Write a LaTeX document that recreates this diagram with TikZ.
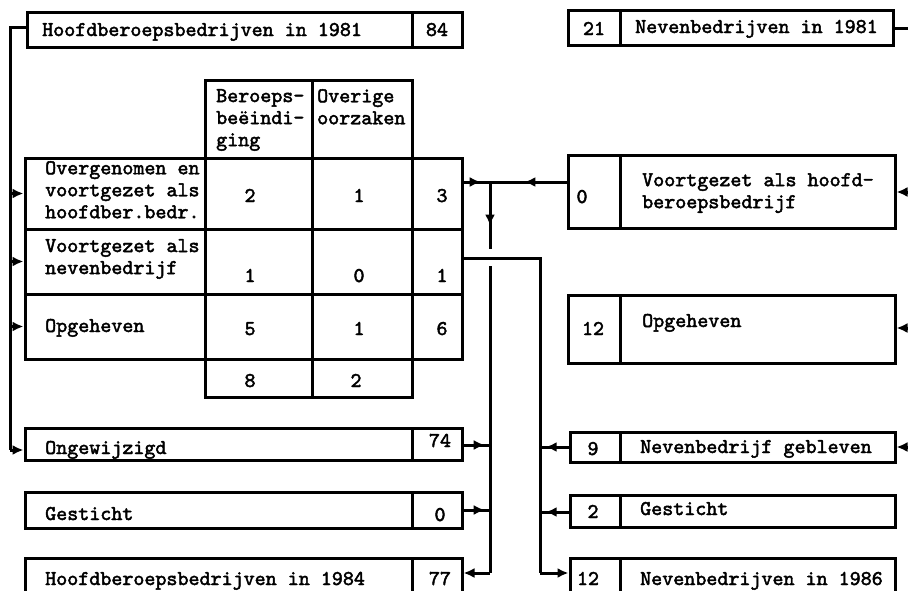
\documentclass[tikz,border=0pt]{standalone}
\usepackage{fontspec}
\newfontfamily\twfont{lmmono10-regular.otf}[FakeBold=2.2]
\usetikzlibrary{fit,arrows.meta,decorations.markings}
\begin{document}
\begin{tikzpicture}[x=1pt,y=-1pt,
  cell/.style={draw, line width=3pt, inner sep=0pt},
  txt/.style={font=\twfont\fontsize{21}{22}\selectfont, inner sep=0pt, align=left},
  lbl/.style={txt, anchor=base west},
  num/.style={txt, anchor=base},
  wire/.style={line width=3pt},
  tip/.style={-{Latex[length=11pt,width=10pt]}},
  midtip/.style={postaction={decorate}, decoration={markings,
      mark=at position #1 with {\arrow{Latex[length=11pt,width=10pt]}}}}
]
\clip (0,0) rectangle (908,590);
\fill[white] (0,0) rectangle (908,590);

% ---------------- boxes, left column
\node[cell, fit={(27,12) (412,47)}] (h81l) {};
\node[cell, fit={(412,12) (462,47)}] (h81n) {};
\node[cell, fit={(205,80) (312,158)}] (hd1) {};
\node[cell, fit={(312,80) (412,158)}] (hd2) {};
\node[cell, fit={(25,158) (205,229)}] (r1l) {};
\node[cell, fit={(205,158) (312,229)}] (r1a) {};
\node[cell, fit={(312,158) (412,229)}] (r1b) {};
\node[cell, fit={(412,158) (462,229)}] (r1c) {};
\node[cell, fit={(25,229) (205,294)}] (r2l) {};
\node[cell, fit={(205,229) (312,294)}] (r2a) {};
\node[cell, fit={(312,229) (412,294)}] (r2b) {};
\node[cell, fit={(412,229) (462,294)}] (r2c) {};
\node[cell, fit={(25,294) (205,359)}] (r3l) {};
\node[cell, fit={(205,294) (312,359)}] (r3a) {};
\node[cell, fit={(312,294) (412,359)}] (r3b) {};
\node[cell, fit={(412,294) (462,359)}] (r3c) {};
\node[cell, fit={(205,359) (312,397)}] (t1) {};
\node[cell, fit={(312,359) (412,397)}] (t2) {};
\node[cell, fit={(25,428) (412,460)}] (ongl) {};
\node[cell, fit={(412,428) (462,460)}] (ongn) {};
\node[cell, fit={(25,492) (412,528)}] (gesl) {};
\node[cell, fit={(412,492) (462,528)}] (gesn) {};
\node[cell, fit={(25,558) (412,610)}] (h84l) {};
\node[cell, fit={(412,558) (462,610)}] (h84n) {};

% ---------------- boxes, right column
\node[cell, fit={(568,10) (620,45)}] (n81n) {};
\node[cell, fit={(620,10) (893,45)}] (n81l) {};
\node[cell, fit={(568,155) (620,228)}] (vhbn) {};
\node[cell, fit={(620,155) (895,228)}] (vhbl) {};
\node[cell, fit={(568,295) (620,363)}] (opgn) {};
\node[cell, fit={(620,295) (895,363)}] (opgl) {};
\node[cell, fit={(570,432) (620,462)}] (ngbn) {};
\node[cell, fit={(620,432) (895,462)}] (ngbl) {};
\node[cell, fit={(570,495) (620,527)}] (ngn) {};
\node[cell, fit={(620,495) (895,527)}] (ngl) {};
\node[cell, fit={(570,558) (620,610)}] (n86n) {};
\node[cell, fit={(620,558) (895,610)}] (n86l) {};

% ---------------- texts
\node[lbl] at (42,36) {Hoofdberoepsbedrijven in 1981};
\node[num] at (437,36) {84};
\node[num] at (594,35) {21};
\node[lbl] at (635,33) {Nevenbedrijven in 1981};

\node[txt, anchor=north west] at (216,89) {Beroeps-\\beëindi-\\ging};
\node[txt, anchor=north west] at (317,89) {Overige\\oorzaken};

\node[txt, anchor=north west] at (45,161) {Overgenomen en\\voortgezet als\\hoofdber.bedr.};
\node[num] at (250,202) {2};
\node[num] at (359,202) {1};
\node[num] at (442,202) {3};

\node[txt, anchor=north west] at (45,239) {Voortgezet als\\nevenbedrijf};
\node[num] at (250,282) {1};
\node[num] at (359,282) {0};
\node[num] at (442,282) {1};

\node[lbl] at (45,332) {Opgeheven};
\node[num] at (250,335) {5};
\node[num] at (359,335) {1};
\node[num] at (442,335) {6};

\node[num] at (250,387) {8};
\node[num] at (356,387) {2};

\node[lbl] at (45,454) {Ongewijzigd};
\node[num] at (440,447) {74};
\node[lbl] at (45,520) {Gesticht};
\node[num] at (440,521) {0};
\node[lbl] at (45,585) {Hoofdberoepsbedrijven in 1984};
\node[num] at (440,585) {77};

\node[num] at (582,203) {0};
\node[txt, anchor=north west] at (642,173) {Voortgezet als hoofd-\\beroepsbedrijf};
\node[num] at (593,335) {12};
\node[lbl] at (642,327) {Opgeheven};
\node[num] at (593,455) {9};
\node[lbl] at (640,453) {Nevenbedrijf gebleven};
\node[num] at (593,518) {2};
\node[lbl] at (640,515) {Gesticht};
\node[num] at (588,585) {12};
\node[lbl] at (640,585) {Nevenbedrijven in 1986};

% ---------------- connectors, left trunk
\coordinate (LT) at (10,27);
\coordinate (LB) at (10,450);
\coordinate (L1) at (10,193.5);
\coordinate (L2) at (10,261.5);
\coordinate (L3) at (10,326.5);
\draw[wire] (h81l.west |- LT) -- (LT) -- (LB);
\draw[wire,tip] (LB) -- (ongl.west |- LB);
\draw[wire,tip] (L1) -- (r1l.west);
\draw[wire,tip] (L2) -- (r2l.west);
\draw[wire,tip] (L3) -- (r3l.west);

% ---------------- middle trunk (to Hoofdberoepsbedrijven 1984)
\coordinate (J) at (490,182);
\coordinate (JG1) at (490,249);
\coordinate (JG2) at (490,266);
\coordinate (JB) at (490,573);
\coordinate (JO) at (490,445);
\coordinate (JS) at (490,510);
\draw[wire, midtip=0.65] (r1c.east |- J) -- (J);
\draw[wire, midtip=0.55] (vhbn.west |- J) -- (J);
\draw[wire, midtip=0.65] (J) -- (JG1);
\draw[wire] (JG2) -- (JB);
\draw[wire,tip] (JB) -- (h84n.east |- JB);
\draw[wire, midtip=0.8] (ongn.east |- JO) -- (JO);
\draw[wire, midtip=0.8] (gesn.east |- JS) -- (JS);

% ---------------- right trunk (to Nevenbedrijven 1986)
\coordinate (K0) at (462,258);
\coordinate (K1) at (540,258);
\coordinate (KB) at (540,573);
\coordinate (KN) at (540,447);
\coordinate (KS) at (540,512);
\draw[wire] (K0) -- (K1) -- (KB);
\draw[wire,tip] (KB) -- (n86n.west |- KB);
\draw[wire, midtip=0.8] (ngbn.west |- KN) -- (KN);
\draw[wire, midtip=0.8] (ngn.west |- KS) -- (KS);

% ---------------- right edge
\coordinate (E0) at (910,28);
\coordinate (E1) at (912,192);
\coordinate (E2) at (912,328);
\coordinate (E3) at (912,447);
\draw[wire] (n81l.east |- E0) -- (E0);
\draw[wire,tip] (E1) -- (vhbl.east |- E1);
\draw[wire,tip] (E2) -- (opgl.east |- E2);
\draw[wire,tip] (E3) -- (ngbl.east |- E3);
\end{tikzpicture}
\end{document}
